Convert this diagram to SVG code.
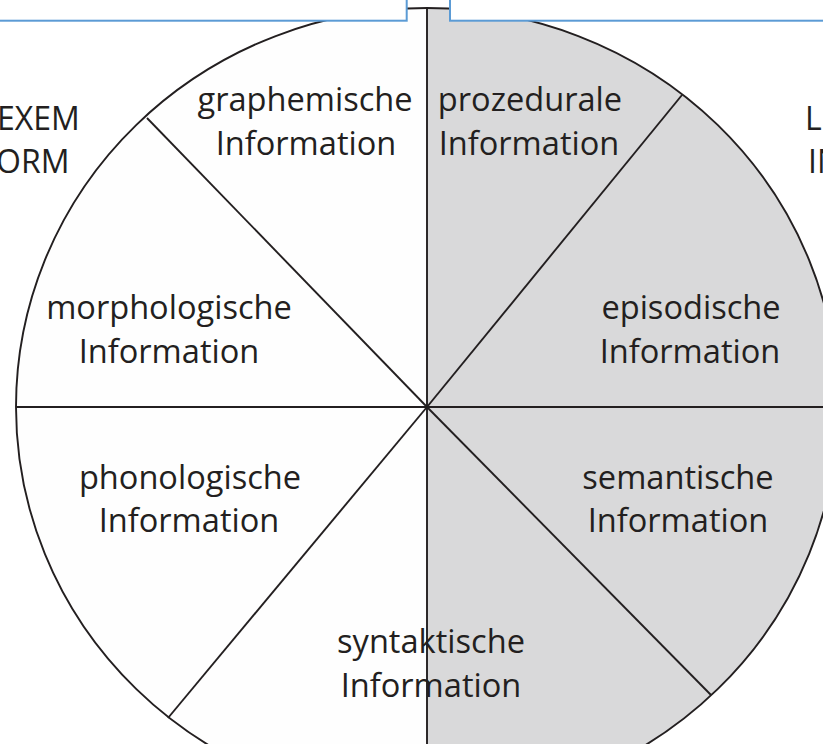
<svg xmlns="http://www.w3.org/2000/svg" width="823" height="744" viewBox="0 0 823 744">
<style>
.lbl{font-family:"Open Sans","Noto Sans","Liberation Sans",sans-serif;font-size:32.6px;fill:#231f20;text-anchor:middle}
.side{font-family:"Open Sans","Noto Sans","Liberation Sans",sans-serif;font-size:32px;fill:#231f20}
.ln{stroke:#231f20;stroke-width:1.9;fill:none}
.box{fill:#ffffff;stroke:#5b9bd5;stroke-width:2}
</style>
<rect x="0" y="0" width="823" height="744" fill="#ffffff"/>
<g id="wheel">
<path d="M427,8 A411,399 0 0 0 427,806 Z" fill="#fefefe"/>
<path d="M427,8 A411,399 0 0 1 427,806 Z" fill="#d9d9da"/>
<ellipse cx="427" cy="407" rx="411" ry="399" class="ln" stroke-width="1.6"/>
</g>
<g id="connectors">
<line x1="427" y1="8" x2="427" y2="744" class="ln"/>
<line x1="16" y1="407" x2="823" y2="407" class="ln"/>
<line x1="427" y1="407" x2="147" y2="118" class="ln"/>
<line x1="427" y1="407" x2="682" y2="95" class="ln"/>
<line x1="427" y1="407" x2="168" y2="718" class="ln"/>
<line x1="427" y1="407" x2="711" y2="695" class="ln"/>
</g>
<g id="boxes">
<rect x="-10" y="-10" width="416.7" height="30.7" class="box"/>
<rect x="450" y="-10" width="400" height="30.7" class="box"/>
</g>
<g id="graphemisch"><text class="lbl" x="305" y="111">graphemische</text><text class="lbl" x="306" y="155">Information</text></g>
<g id="prozedural"><text class="lbl" x="530" y="111">prozedurale</text><text class="lbl" x="529" y="155">Information</text></g>
<g id="morphologisch"><text class="lbl" x="169" y="319">morphologische</text><text class="lbl" x="169" y="363">Information</text></g>
<g id="episodisch"><text class="lbl" x="691" y="319">episodische</text><text class="lbl" x="690" y="363">Information</text></g>
<g id="phonologisch"><text class="lbl" x="190" y="489">phonologische</text><text class="lbl" x="189" y="532">Information</text></g>
<g id="semantisch"><text class="lbl" x="678" y="489">semantische</text><text class="lbl" x="678" y="532">Information</text></g>
<g id="syntaktisch"><text class="lbl" x="431" y="653">syntaktische</text><text class="lbl" x="431" y="697">Information</text></g>
<g id="lexemform"><text class="side" x="-3" y="130">EXEM</text><text class="side" x="-4" y="173">ORM</text></g>
<g id="lexeminhalt"><text class="side" x="805" y="130">L</text><text class="side" x="808" y="173">IN</text></g>
</svg>
